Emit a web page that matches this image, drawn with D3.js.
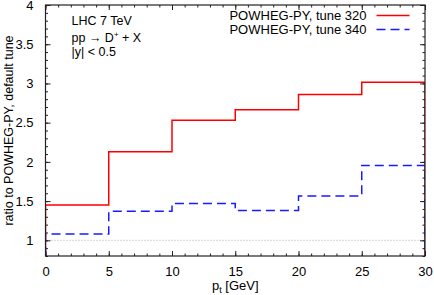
<!DOCTYPE html>
<meta charset="utf-8">
<style>
  body { margin: 0; background: #fff; font-family: "Liberation Sans", Arial, Helvetica, sans-serif; }
  text { fill: #000; }
  .frame { fill: none; stroke: #222; stroke-width: 1.2; }
  .tick line { stroke: #222; }
</style>
<body>
<div id="chart"></div>
<script src="https://d3js.org/d3.v7.min.js"></script>
<script>
  // bin edges in pt [GeV]
  var binEdges = [0, 5, 10, 15, 20, 25, 30];
  // ratio to default tune, one value per bin
  var tune320 = [1.45, 2.13, 2.53, 2.665, 2.86, 3.015];
  var tune340 = [1.08, 1.37, 1.47, 1.38, 1.565, 1.955];
  var seriesNames = ["POWHEG-PY, tune 320", "POWHEG-PY, tune 340"];
  var xTicks = [0, 5, 10, 15, 20, 25, 30];
  var yTicks = [1, 1.5, 2, 2.5, 3, 3.5, 4];

  var W = 434, H = 295,
      margin = {top: 5, right: 9, bottom: 39, left: 45.5},
      width = W - margin.left - margin.right,
      height = H - margin.top - margin.bottom;

  var svg = d3.select("#chart").append("svg")
      .attr("width", W)
      .attr("height", H);

  var g = svg.append("g")
      .attr("transform", "translate(" + margin.left + "," + margin.top + ")");

  var x = d3.scaleLinear().domain([0, 30]).range([0, width]),
      y = d3.scaleLinear().domain([0.8, 4]).range([height, 0]);

  svg.append("clipPath").attr("id", "clip")
    .append("rect").attr("width", width).attr("height", height);

  // reference line at 1
  g.append("line")
      .attr("x1", 0).attr("x2", width)
      .attr("y1", y(1)).attr("y2", y(1))
      .attr("stroke", "#999")
      .attr("stroke-width", 0.8)
      .attr("stroke-dasharray", "1,2");

  // histogram steps, starting and ending at the bottom of the range
  function stepPoints(vals) {
    var pts = [[binEdges[0], 0.8]];
    vals.forEach(function(v, i) {
      pts.push([binEdges[i], v]);
      pts.push([binEdges[i + 1], v]);
    });
    pts.push([binEdges[binEdges.length - 1], 0.8]);
    return pts;
  }

  var line = d3.line()
      .x(function(d) { return x(d[0]); })
      .y(function(d) { return y(d[1]); });

  var series = [
    {vals: tune320, color: "#ff0000", dash: null},
    {vals: tune340, color: "#1a1aff", dash: "9,5"}
  ];

  g.append("g").attr("clip-path", "url(#clip)")
    .selectAll("path")
      .data(series)
    .enter().append("path")
      .attr("d", function(d) { return line(stepPoints(d.vals)); })
      .attr("fill", "none")
      .attr("stroke", function(d) { return d.color; })
      .attr("stroke-width", 1.5)
      .attr("stroke-dasharray", function(d) { return d.dash; });

  // axes with inward ticks on all four sides
  function minor(axis, vals, major) {
    return axis.tickValues(vals).tickSize(-major).tickFormat("");
  }
  var xMinor = d3.range(0, 31, 1), yMinor = d3.range(8, 41).map(function(d) { return d / 10; });

  g.append("g").attr("transform", "translate(0," + height + ")")
      .call(minor(d3.axisBottom(x), xMinor, 2.5));
  g.append("g").call(minor(d3.axisTop(x), xMinor, 2.5));
  g.append("g").call(minor(d3.axisLeft(y), yMinor, 2.5));
  g.append("g").attr("transform", "translate(" + width + ",0)")
      .call(minor(d3.axisRight(y), yMinor, 2.5));

  g.append("g").attr("transform", "translate(0," + height + ")")
      .call(d3.axisBottom(x).tickValues(xTicks).tickSize(-5).tickPadding(11).tickFormat(d3.format("d")));
  g.append("g").call(d3.axisTop(x).tickValues(xTicks).tickSize(-5).tickFormat(""));
  g.append("g")
      .call(d3.axisLeft(y).tickValues(yTicks).tickSize(-5).tickPadding(12).tickFormat(d3.format("")));
  g.append("g").attr("transform", "translate(" + width + ",0)")
      .call(d3.axisRight(y).tickValues(yTicks).tickSize(-5).tickFormat(""));

  g.selectAll(".domain").remove();
  g.selectAll(".tick text").style("font-size", "13px").style("font-family", "'Liberation Sans', Arial, sans-serif");
  g.selectAll(".tick line").attr("stroke", "#222");

  g.append("rect").attr("class", "frame")
      .attr("width", width).attr("height", height);

  // axis titles
  svg.append("text")
      .attr("transform", "translate(13," + (margin.top + height / 2) + ")rotate(-90)")
      .attr("text-anchor", "middle")
      .style("font-size", "12.5px")
      .text("ratio to POWHEG-PY, default tune");

  var xt = svg.append("text")
      .attr("x", margin.left + width / 2)
      .attr("y", 290)
      .attr("text-anchor", "middle")
      .style("font-size", "13px");
  xt.append("tspan").text("p");
  xt.append("tspan").attr("dy", 3).style("font-size", "9px").text("t");
  xt.append("tspan").attr("dy", -3).text(" [GeV]");

  // process label
  var info = g.append("g").style("font-size", "12.5px");
  info.append("text").attr("x", 26).attr("y", 20).text("LHC 7 TeV");
  var pp = info.append("text").attr("x", 26).attr("y", 37);
  pp.append("tspan").text("pp \u2192 D");
  pp.append("tspan").attr("dy", -5).style("font-size", "8px").text("+");
  pp.append("tspan").attr("dy", 5).text(" + X");
  info.append("text").attr("x", 26).attr("y", 51).text("|y| < 0.5");

  // legend
  var legend = g.selectAll("g.legend")
      .data(series)
    .enter().append("g")
      .attr("class", "legend")
      .attr("transform", function(d, i) { return "translate(0," + (10.5 + i * 14) + ")"; });
  legend.append("text")
      .attr("x", 321)
      .attr("dy", "0.35em")
      .attr("text-anchor", "end")
      .style("font-size", "13px")
      .text(function(d, i) { return seriesNames[i]; });
  legend.append("line")
      .attr("x1", 331).attr("x2", 364)
      .attr("stroke", function(d) { return d.color; })
      .attr("stroke-width", 1.5)
      .attr("stroke-dasharray", function(d) { return d.dash; });
</script>
</body>
